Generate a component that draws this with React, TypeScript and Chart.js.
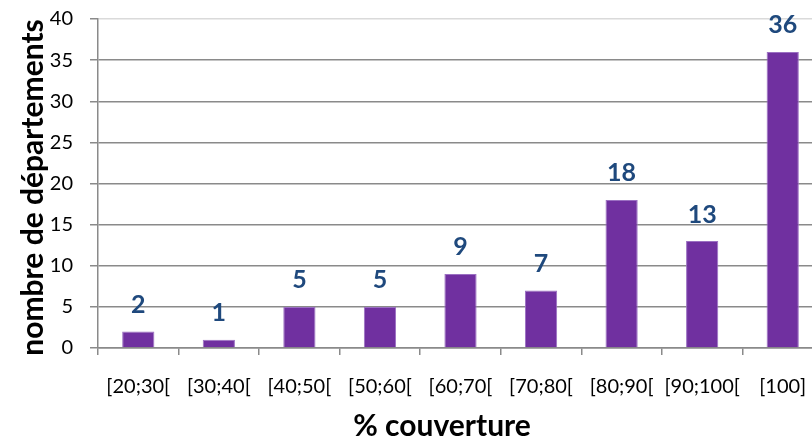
import React, { useEffect, useRef } from "react";
import { Chart, registerables } from "chart.js";
Chart.register(...registerables);

const categories = ["[20;30[", "[30;40[", "[40;50[", "[50;60[", "[60;70[", "[70;80[", "[80;90[", "[90;100[", "[100]"];
const counts = [2, 1, 5, 5, 9, 7, 18, 13, 36];
const yMin = 0;
const yMax = 40;
const yStep = 5;
const xTitle = "% couverture";
const yTitle = "nombre de départements";

const FONT = "Lato, 'Open Sans', sans-serif";
const GRID = "#8a8a8a";

export default function App() {
  const ref = useRef<HTMLCanvasElement>(null);
  useEffect(() => {
    const textPlugin = {
      id: "texts",
      afterDatasetsDraw(chart: any) {
        const ctx = chart.ctx;
        const meta = chart.getDatasetMeta(0);
        ctx.save();
        ctx.fillStyle = "#1F497D";
        ctx.font = `bold 25px ${FONT}`;
        ctx.textAlign = "center";
        ctx.textBaseline = "alphabetic";
        meta.data.forEach((bar: any, i: number) => {
          ctx.fillText(String(counts[i]), bar.x, bar.y - 18.5);
        });
        ctx.restore();
      },
      afterDraw(chart: any) {
        const ctx = chart.ctx;
        const area = chart.chartArea;
        ctx.save();
        ctx.fillStyle = "#000";
        ctx.font = `bold 30px ${FONT}`;
        ctx.textAlign = "center";
        ctx.textBaseline = "alphabetic";
        ctx.fillText(xTitle, 442, 436);
        ctx.translate(43, (area.top + area.bottom) / 2 + 4);
        ctx.rotate(-Math.PI / 2);
        ctx.fillText(yTitle, 0, 0);
        ctx.restore();
      },
    };
    const chart = new Chart(ref.current as HTMLCanvasElement, {
      type: "bar",
      data: {
        labels: categories,
        datasets: [
          {
            data: counts,
            backgroundColor: "#7030A0",
            borderColor: "#9b70c2",
            borderWidth: 1,
            barPercentage: 0.4,
            categoryPercentage: 1,
          },
        ],
      },
      options: {
        responsive: false,
        animation: false,
        layout: { padding: { top: 19, left: 0, right: 7, bottom: 0 } },
        plugins: { legend: { display: false }, tooltip: { enabled: false } },
        scales: {
          x: {
            grid: { drawOnChartArea: false, drawTicks: true, tickLength: 7, color: GRID, lineWidth: 1.5 },
            border: { color: GRID, width: 1.5 },
            ticks: { font: { family: FONT, size: 20 }, color: "#000", padding: 20, maxRotation: 0, autoSkip: false },
            afterFit: (s: any) => {
              s.height = 92;
              s.paddingLeft = 0;
              s.paddingRight = 0;
            },
          },
          y: {
            min: yMin,
            max: yMax,
            ticks: { stepSize: yStep, font: { family: FONT, size: 20 }, color: "#000", padding: 17 },
            grid: {
              color: (c: any) => (c.tick && c.tick.value === yMax ? "#dadada" : GRID),
              tickColor: GRID,
              tickLength: 8,
              lineWidth: 1.5,
            },
            border: { color: GRID, width: 1.5 },
            afterFit: (s: any) => {
              s.width = 98;
              s.paddingTop = 0;
              s.paddingBottom = 0;
            },
          },
        },
      },
      plugins: [textPlugin],
    });
    return () => chart.destroy();
  }, []);
  return (
    <div style={{ position: "fixed", left: 0, top: 0, width: 812, height: 440, overflow: "hidden", background: "#fff" }}>
      <canvas ref={ref} width={830} height={440} style={{ display: "block" }} />
    </div>
  );
}
